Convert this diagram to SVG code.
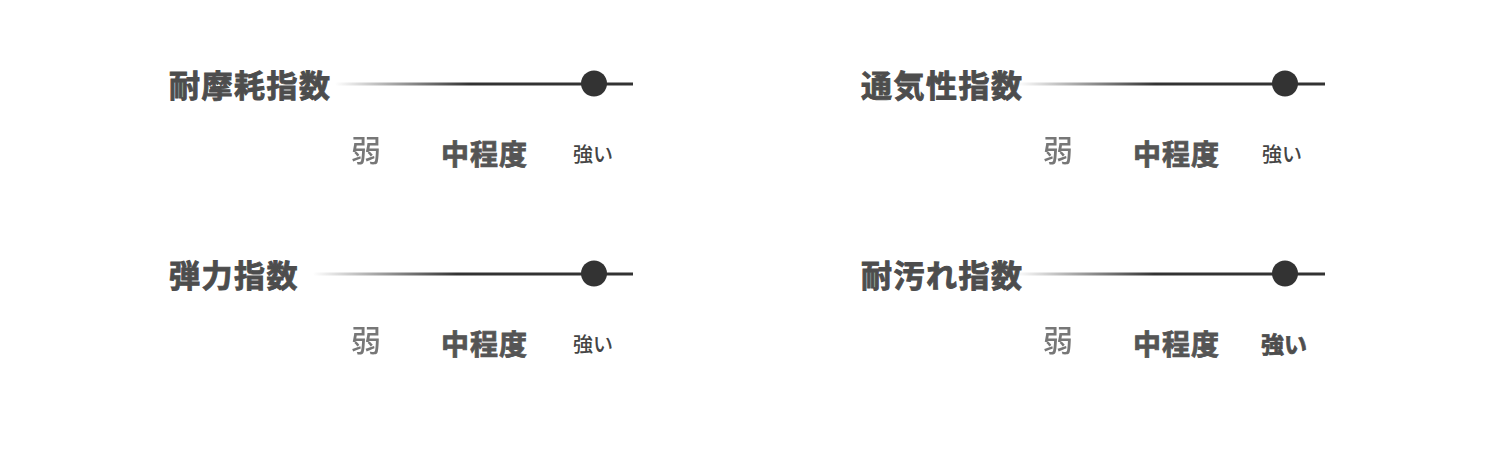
<svg xmlns="http://www.w3.org/2000/svg" width="1500" height="462" viewBox="0 0 1500 462">
<defs>
<linearGradient id="fade" x1="0" y1="0" x2="1" y2="0">
<stop offset="0" stop-color="#333" stop-opacity="0"/>
<stop offset="0.45" stop-color="#333" stop-opacity="1"/>
<stop offset="1" stop-color="#333" stop-opacity="1"/>
</linearGradient>
<filter id="soft" x="-10%" y="-10%" width="120%" height="120%"><feGaussianBlur stdDeviation="0.6"/></filter>
</defs>
<style>
text{font-family:"Noto Sans CJK JP","Noto Sans CJK SC",sans-serif}
.title{font-size:31px;font-weight:700;fill:#4d4d4d;stroke:#4d4d4d;stroke-width:0.9px;letter-spacing:1.5px}
.weak{font-size:30px;font-weight:500;fill:#777}
.mid{font-size:28px;font-weight:700;fill:#555;stroke:#555;stroke-width:0.8px;letter-spacing:1px}
.strong{font-size:20px;font-weight:500;fill:#444}
.strongb{font-size:23px;font-weight:700;fill:#4d4d4d;stroke:#4d4d4d;stroke-width:0.7px}
.dot{fill:#333}
</style>
<rect width="1500" height="462" fill="#fff"/>
<g id="connectors">
<rect x="335" y="82.5" width="298" height="3" fill="url(#fade)"/>
<rect x="313" y="272.5" width="320" height="3" fill="url(#fade)"/>
<rect x="1017" y="82.5" width="308" height="3" fill="url(#fade)"/>
<rect x="1015" y="272.5" width="310" height="3" fill="url(#fade)"/>
</g>
<g id="node-abrasion">
<text class="title" x="169" y="97">耐摩耗指数</text>
<circle class="dot" cx="594" cy="83.5" r="13"/>
<text class="weak" x="351" y="161" filter="url(#soft)">弱</text>
<text class="mid" x="441" y="165">中程度</text>
<text class="strong" x="573" y="162">強い</text>
</g>
<g id="node-breathability">
<text class="title" x="861" y="97">通気性指数</text>
<circle class="dot" cx="1285" cy="83.5" r="13"/>
<text class="weak" x="1043" y="161" filter="url(#soft)">弱</text>
<text class="mid" x="1133" y="165">中程度</text>
<text class="strong" x="1262" y="162">強い</text>
</g>
<g id="node-elasticity">
<text class="title" x="169" y="287">弾力指数</text>
<circle class="dot" cx="594" cy="273.5" r="13"/>
<text class="weak" x="351" y="351" filter="url(#soft)">弱</text>
<text class="mid" x="441" y="355">中程度</text>
<text class="strong" x="573" y="352">強い</text>
</g>
<g id="node-stain">
<text class="title" x="861" y="287">耐汚れ指数</text>
<circle class="dot" cx="1285" cy="273.5" r="13"/>
<text class="weak" x="1043" y="351" filter="url(#soft)">弱</text>
<text class="mid" x="1133" y="355">中程度</text>
<text class="strongb" x="1261" y="353">強い</text>
</g>
</svg>
